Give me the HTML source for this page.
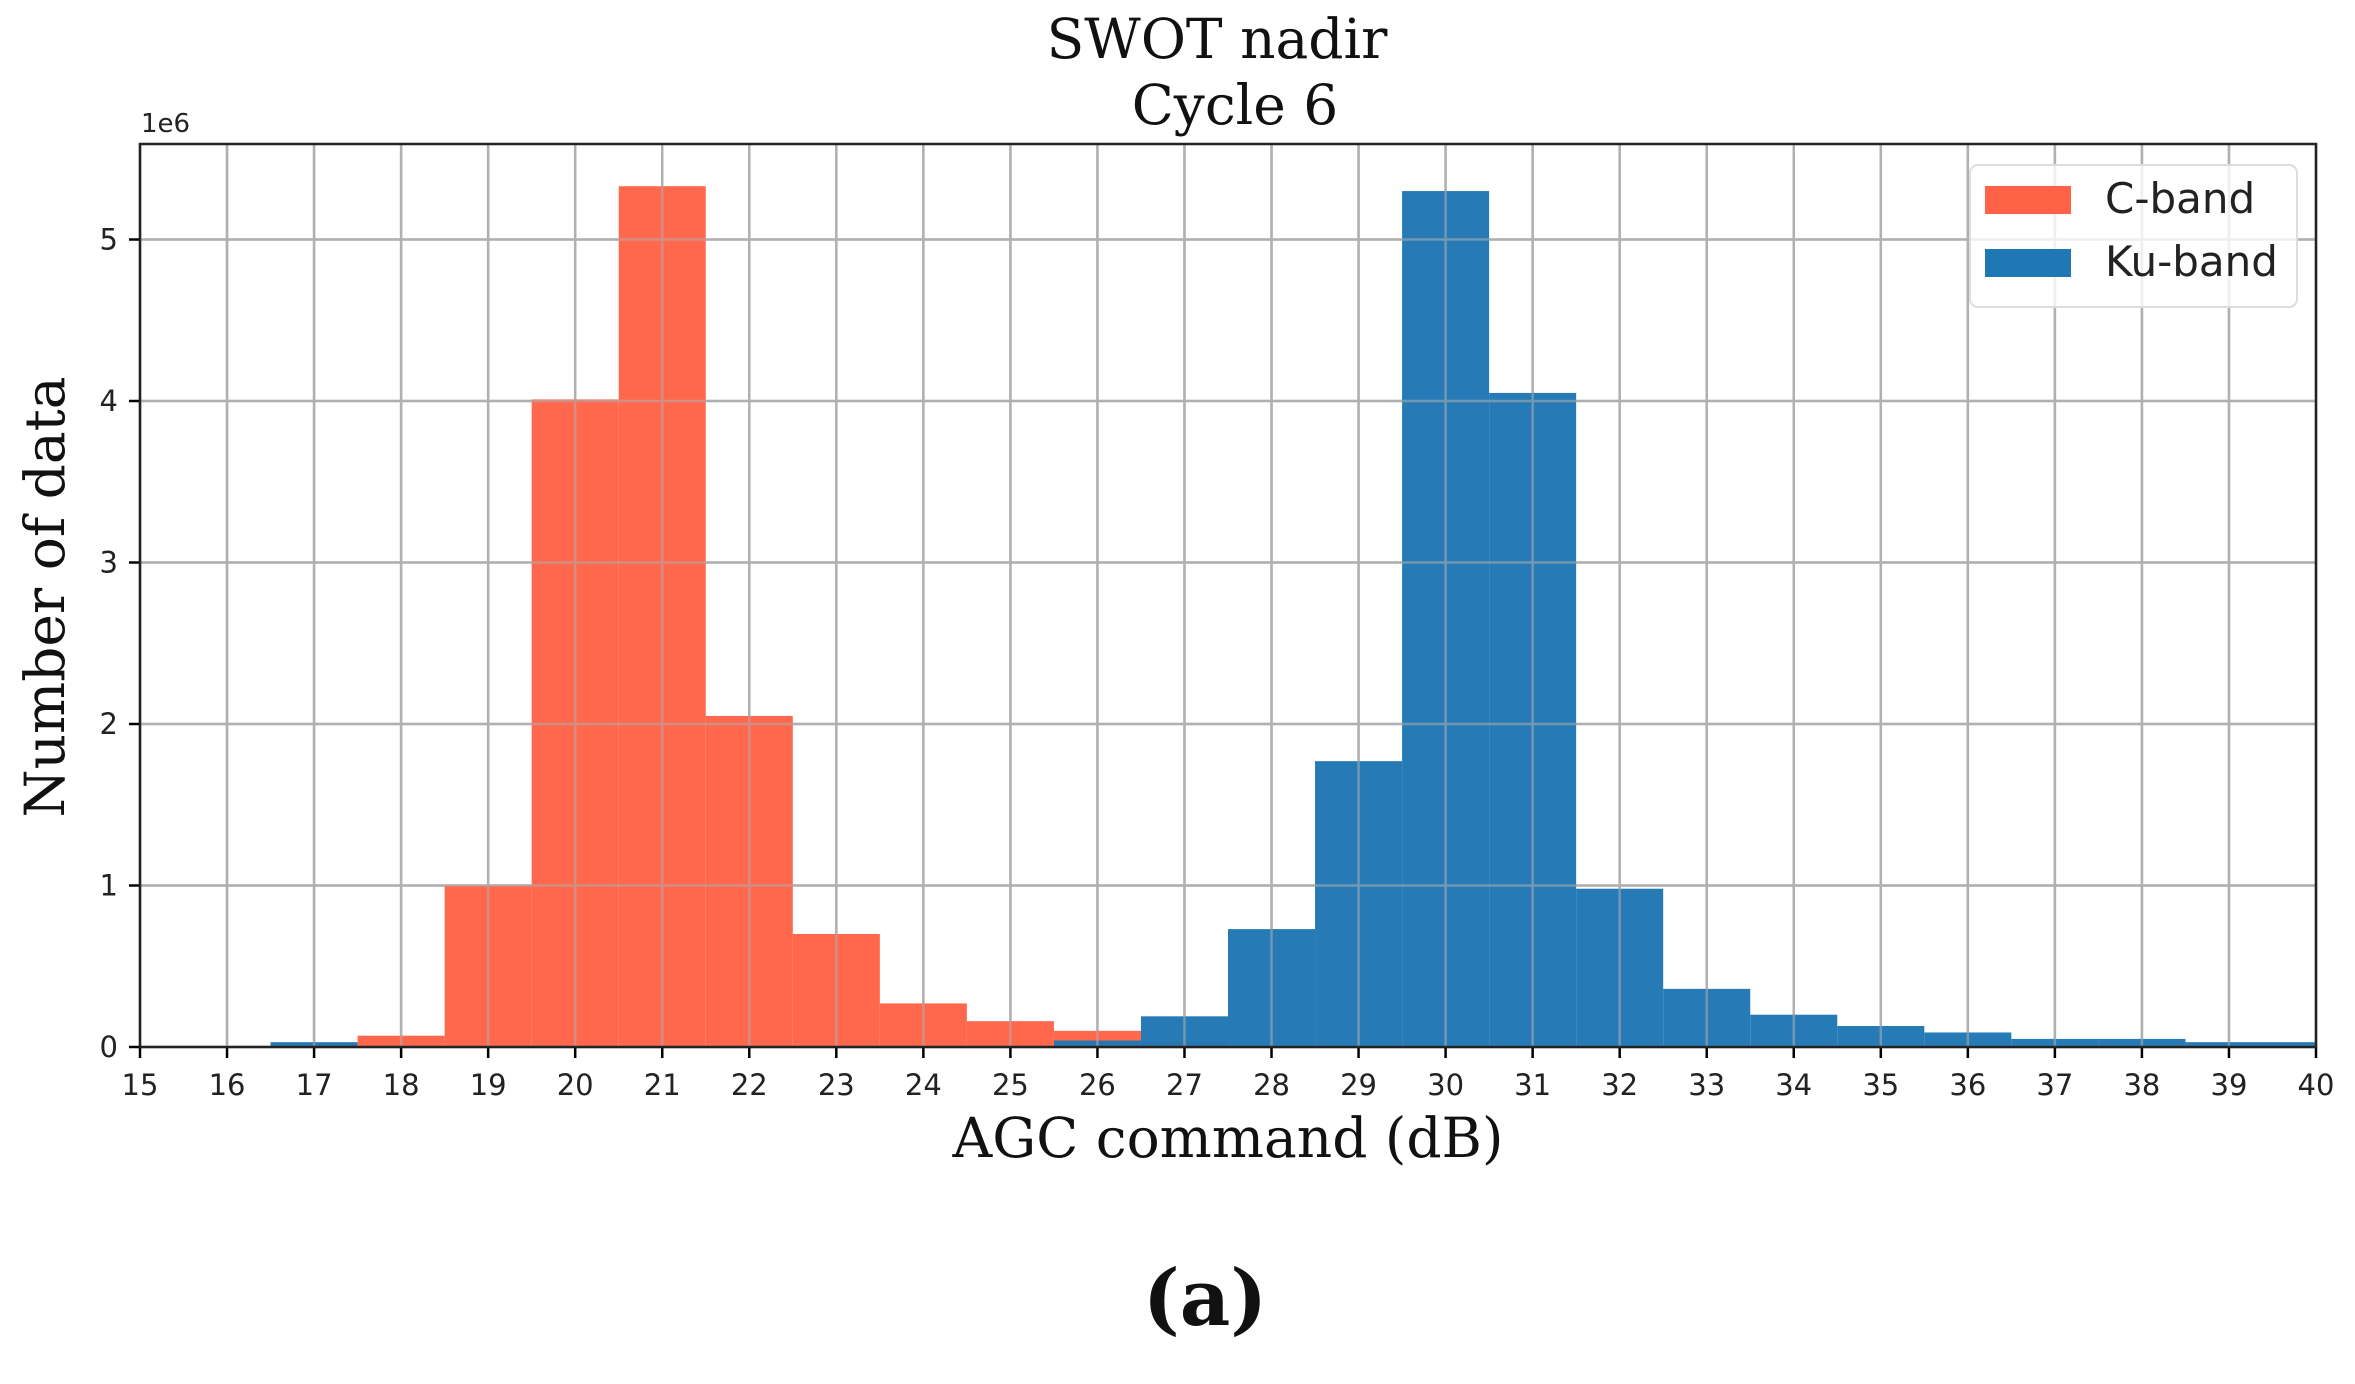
<!DOCTYPE html>
<html><head><meta charset="utf-8"><style>
html,body{margin:0;padding:0;background:#fff;width:2355px;height:1384px;overflow:hidden}
svg text{font-family:"DejaVu Sans","Liberation Sans",sans-serif}
.serif{font-family:"DejaVu Serif","Liberation Serif",serif}
</style></head><body>
<svg id="chart" width="2355" height="1384" viewBox="0 0 2355 1384" xmlns="http://www.w3.org/2000/svg">
<g id="grid"></g>
<g id="bars"></g>
<g id="axes"></g>
<text class="serif" x="1217" y="58" font-size="55" text-anchor="middle" fill="#111">SWOT nadir</text>
<text class="serif" x="1235" y="124" font-size="55" text-anchor="middle" fill="#111">Cycle 6</text>
<text class="serif" x="1228" y="1157" font-size="55" text-anchor="middle" fill="#111">AGC command (dB)</text>
<text class="serif" transform="translate(64,597) rotate(-90)" font-size="55" text-anchor="middle" fill="#111">Number of data</text>
<text x="141" y="132" font-size="26" fill="#222">1e6</text>
<text class="serif" x="1205" y="1325" font-size="78" font-weight="bold" text-anchor="middle" fill="#111">(a)</text>
<g>
<rect x="1970" y="165" width="327" height="142" rx="8" fill="#fff" fill-opacity="0.8" stroke="#ddd" stroke-width="2"/>
<rect x="1985" y="186" width="86" height="28" fill="#ff6347"/>
<text x="2105" y="213" font-size="42" fill="#222">C-band</text>
<rect x="1985" y="249" width="86" height="28" fill="#1f77b4"/>
<text x="2105" y="276" font-size="42" fill="#222">Ku-band</text>
</g>
</svg>
<script>
const binStarts = [16.5,17.5,18.5,19.5,20.5,21.5,22.5,23.5,24.5,25.5,26.5,27.5,28.5,29.5,30.5,31.5,32.5,33.5,34.5,35.5,36.5,37.5,38.5,39.5];
const binWidths = [1,1,1,1,1,1,1,1,1,1,1,1,1,1,1,1,1,1,1,1,1,1,1,0.5];
const cBand = [0.02,0.07,1.0,4.01,5.33,2.05,0.70,0.27,0.16,0.10,0.03,0.01,0,0,0,0,0,0,0,0,0,0,0,0];
const kuBand = [0.03,0,0,0,0,0,0,0,0,0.04,0.19,0.73,1.77,5.30,4.05,0.98,0.36,0.20,0.13,0.09,0.05,0.05,0.03,0.03];
const xTicks = [15,16,17,18,19,20,21,22,23,24,25,26,27,28,29,30,31,32,33,34,35,36,37,38,39,40];
const yTicks = [0,1,2,3,4,5];
const X0=140,X1=2316,Y0=1047,YT=144;
const xs = v => X0 + (v-15)/(40-15)*(X1-X0);
const ys = v => Y0 - v*161.5;
const NS="http://www.w3.org/2000/svg";
function mk(tag,attrs,parent){const e=document.createElementNS(NS,tag);for(const k in attrs)e.setAttribute(k,attrs[k]);parent.appendChild(e);return e;}
const grid=document.getElementById('grid'),bars=document.getElementById('bars'),axes=document.getElementById('axes');
xTicks.forEach(t=>{
  const l=mk('line',{x1:xs(t),x2:xs(t),y1:YT,y2:Y0,stroke:'#b0b0b0','stroke-width':2.5},grid);
  
  
  const tk=mk('line',{x1:xs(t),x2:xs(t),y1:Y0,y2:Y0+11,stroke:'#000','stroke-width':2.5},axes);
  
  
  const tx=mk('text',{x:xs(t),y:Y0+48,'font-size':29,'text-anchor':'middle',fill:'#222'},axes);
  tx.textContent=t;
  
  
});
yTicks.forEach(t=>{
  const l=mk('line',{x1:X0,x2:X1,y1:ys(t),y2:ys(t),stroke:'#b0b0b0','stroke-width':2.5},grid);
  
  
  const tk=mk('line',{x1:X0-11,x2:X0,y1:ys(t),y2:ys(t),stroke:'#000','stroke-width':2.5},axes);
  
  
  const tx=mk('text',{x:X0-22,y:ys(t)+10,'font-size':29,'text-anchor':'end',fill:'#222'},axes);
  tx.textContent=t;
  
  
});
function drawSeries(vals,color,name){
  vals.forEach((v,i)=>{
    if(v<=0)return;
    const x=xs(binStarts[i]),w=xs(binStarts[i]+binWidths[i])-x;
    const r=mk('rect',{x:x,y:ys(v),width:w,height:Y0-ys(v),fill:color,'fill-opacity':0.97},bars);
    
    
  });
}
drawSeries(cBand,'#ff6347','bar-c-band');
drawSeries(kuBand,'#1f77b4','bar-ku-band');
const g2=grid.cloneNode(true);g2.setAttribute('opacity','0.55');


document.getElementById('chart').insertBefore(g2,axes);
const fr=mk('rect',{x:X0,y:YT,width:X1-X0,height:Y0-YT,fill:'none',stroke:'#222','stroke-width':2.5},axes);


</script>
</body></html>
